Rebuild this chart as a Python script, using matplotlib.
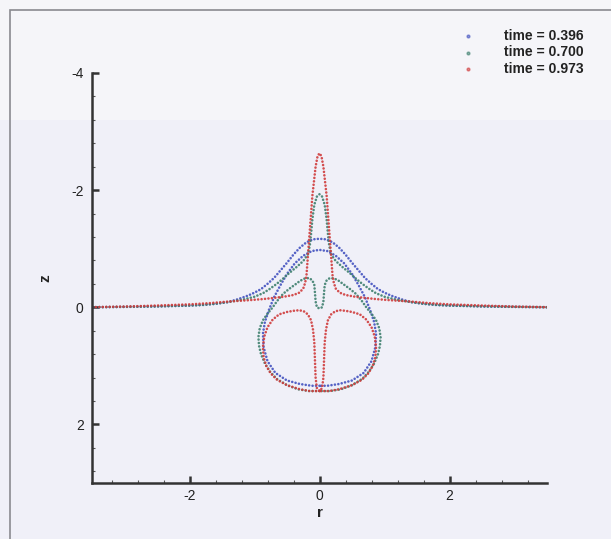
import numpy as np
import matplotlib
matplotlib.use("Agg")
import matplotlib.pyplot as plt
from matplotlib.lines import Line2D
from matplotlib.patches import Rectangle
from matplotlib.ticker import MultipleLocator

plt.rcParams['font.family'] = ['Liberation Sans', 'DejaVu Sans']
plt.rcParams['axes.unicode_minus'] = False

# Half profiles (r >= 0), mirrored about the axis r = 0 when drawn
# time = 0.396 : free surface and bubble
blue_surf_r = [0.0, 0.1, 0.2, 0.3, 0.4, 0.5, 0.6, 0.7, 0.8, 0.9, 1.0, 1.1, 1.25, 1.4, 1.6, 1.8, 2.0, 2.5, 3.0, 3.6]
blue_surf_z = [-1.17, -1.16, -1.11, -1.02, -0.9, -0.76, -0.63, -0.5, -0.4, -0.31, -0.25, -0.2, -0.14, -0.09, -0.06, -0.04, -0.03, -0.015, -0.007, 0.0]
blue_bub_r = [0.0, 0.12, 0.25, 0.38, 0.5, 0.6, 0.7, 0.78, 0.84, 0.87, 0.86, 0.8, 0.68, 0.5, 0.3, 0.12, 0.0]
blue_bub_z = [-0.98, -0.96, -0.88, -0.75, -0.57, -0.38, -0.17, 0.05, 0.25, 0.45, 0.68, 0.92, 1.12, 1.25, 1.31, 1.34, 1.34]

# time = 0.700
green_surf_r = [0.0, 0.04, 0.08, 0.11, 0.13, 0.15, 0.18, 0.25, 0.35, 0.46, 0.57, 0.67, 0.77, 0.87, 1.0, 1.18, 1.4, 1.6, 1.8, 2.0, 2.5, 3.0, 3.6]
green_surf_z = [-1.93, -1.89, -1.75, -1.5, -1.25, -1.05, -0.9, -0.79, -0.69, -0.59, -0.48, -0.39, -0.31, -0.24, -0.18, -0.13, -0.09, -0.06, -0.04, -0.03, -0.015, -0.007, 0.0]
green_bub_r = [0.0, 0.04, 0.06, 0.07, 0.08, 0.11, 0.16, 0.23, 0.3, 0.36, 0.46, 0.56, 0.65, 0.72, 0.8, 0.87, 0.92, 0.94, 0.93, 0.9, 0.84, 0.76, 0.66, 0.5, 0.33, 0.16, 0.0]
green_bub_z = [0.02, 0.0, -0.1, -0.25, -0.38, -0.46, -0.5, -0.49, -0.45, -0.4, -0.32, -0.23, -0.11, 0.0, 0.11, 0.22, 0.36, 0.51, 0.66, 0.8, 0.96, 1.1, 1.22, 1.33, 1.4, 1.43, 1.43]

# time = 0.973
red_surf_r = [0.0, 0.03, 0.06, 0.08, 0.11, 0.13, 0.15, 0.17, 0.19, 0.2, 0.22, 0.25, 0.31, 0.4, 0.55, 0.7, 0.87, 1.1, 1.38, 1.7, 2.0, 2.5, 3.0, 3.6]
red_surf_z = [-2.63, -2.58, -2.4, -2.2, -1.9, -1.6, -1.3, -1.0, -0.7, -0.55, -0.42, -0.32, -0.25, -0.21, -0.18, -0.16, -0.14, -0.12, -0.1, -0.07, -0.05, -0.03, -0.012, 0.0]
red_bub_r = [0.0, 0.04, 0.06, 0.07, 0.08, 0.1, 0.13, 0.18, 0.24, 0.31, 0.4, 0.5, 0.62, 0.72, 0.8, 0.85, 0.87, 0.86, 0.82, 0.75, 0.65, 0.5, 0.3, 0.15, 0.0]
red_bub_z = [1.43, 1.38, 1.2, 0.9, 0.6, 0.38, 0.22, 0.12, 0.07, 0.05, 0.06, 0.08, 0.12, 0.21, 0.34, 0.5, 0.68, 0.85, 1.0, 1.13, 1.24, 1.33, 1.4, 1.43, 1.43]

times = ["0.396", "0.700", "0.973"]
colors = ["#4453c0", "#3f806f", "#d03c3c"]
series = [
    [(blue_surf_r, blue_surf_z), (blue_bub_r, blue_bub_z)],
    [(green_surf_r, green_surf_z), (green_bub_r, green_bub_z)],
    [(red_surf_r, red_surf_z), (red_bub_r, red_bub_z)],
]


def mirror(r, z):
    r = np.asarray(r)
    z = np.asarray(z)
    return np.concatenate([-r[::-1], r]), np.concatenate([z[::-1], z])


W, H = 611, 539
fig = plt.figure(figsize=(W / 100, H / 100), dpi=100)
fig.patch.set_facecolor("#f0f0f8")
# lighter band at top of the scanned page and the frame border
fig.add_artist(Rectangle((0, 1 - 120 / H), 1, 120 / H, transform=fig.transFigure,
                         facecolor="#f5f5f9", edgecolor="none", zorder=-10))
fig.add_artist(Rectangle((10 / W, -0.05), 1.1, 1 - 10 / H + 0.05, transform=fig.transFigure,
                         facecolor="none", edgecolor="#8a8a90", linewidth=1.2, zorder=-5))

ax = fig.add_axes([92 / W, 1 - 483 / H, (547 - 92) / W, (483 - 73) / H])
ax.set_facecolor("none")

for col, parts in zip(colors, series):
    for r, z in parts:
        rr, zz = mirror(r, z)
        ax.plot(rr, zz, color=col, lw=1.9, linestyle=(0, (0.01, 1.3)),
                dash_capstyle="round", solid_capstyle="round", alpha=0.9)

ax.set_xlim(-3.5, 3.5)
ax.set_ylim(3, -4)
ax.xaxis.set_major_locator(MultipleLocator(2))
ax.xaxis.set_minor_locator(MultipleLocator(0.4))
ax.yaxis.set_major_locator(MultipleLocator(2))
ax.yaxis.set_minor_locator(MultipleLocator(0.4))

for s in ["top", "right"]:
    ax.spines[s].set_visible(False)
for s in ["left", "bottom"]:
    ax.spines[s].set_linewidth(1.8)
    ax.spines[s].set_color("#333333")

ax.tick_params(which="major", direction="in", length=5, width=1.8, color="#333333",
               labelsize=10, labelcolor="#222222")
ax.tick_params(axis="x", which="major", pad=4)
ax.tick_params(axis="y", which="major", pad=6)
ax.tick_params(which="minor", direction="in", length=2.2, width=0.8, color="#555555")

ax.set_xlabel("r", fontsize=11, fontweight="bold", color="#222222")
ax.set_ylabel("z", fontsize=11, fontweight="bold", color="#222222")
ax.xaxis.set_label_coords(0.5, -0.055)
ax.yaxis.set_label_coords(-0.088, 0.5)

# legend
for i, (t, col) in enumerate(zip(times, colors)):
    y = 1 - (36 + 16.5 * i) / H
    fig.add_artist(Line2D([468 / W], [y], marker="o", ms=2, color=col, ls="none",
                          alpha=0.6, transform=fig.transFigure))
    fig.text(504 / W, y, "time = " + t, fontsize=10, fontweight="bold",
             color="#222222", ha="left", va="center")

fig.savefig("out.png", dpi=100, facecolor=fig.get_facecolor())
